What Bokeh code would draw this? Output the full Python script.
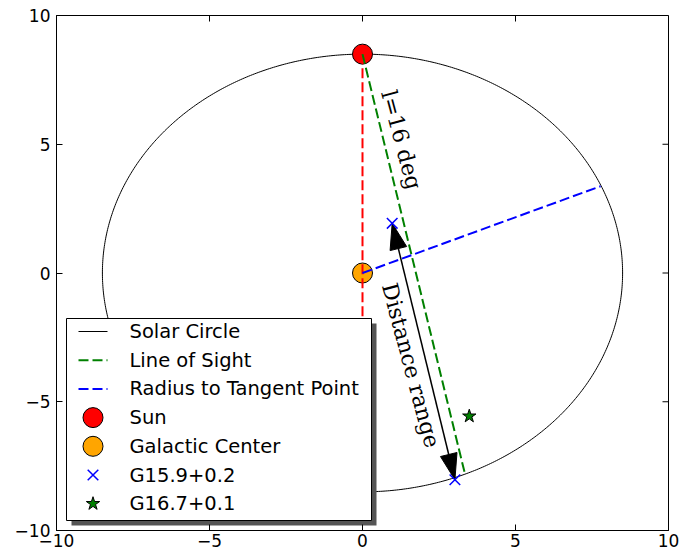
import numpy as np
from bokeh.plotting import figure
from bokeh.models import Range1d, FixedTicker
from bokeh.embed import file_html
from bokeh.resources import INLINE
from bokeh.core.properties import value

# Galactic geometry in kpc (Sun-centred view of the inner Galaxy)
R_SUN = 8.5
sun_x, sun_y = [0.0], [8.5]
gc_x, gc_y = [0.0], [0.0]
sun_gc_x, sun_gc_y = [0.0, 0.0], [8.5, -8.5]
los_x, los_y = [0.0, 3.35], [8.5, -7.81]
tangent_x, tangent_y = [0.0, 7.78], [0.0, 3.37]
g159_x, g159_y = [0.97, 3.02], [1.93, -8.03]
g167_x, g167_y = [3.49], [-5.56]

ticks = [-10, -5, 0, 5, 10]
tick_labels = {-10: "\u221210", -5: "\u22125", 0: "0", 5: "5", 10: "10"}

legend_labels = ["Solar Circle", "Line of Sight", "Radius to Tangent Point",
                 "Sun", "Galactic Center", "G15.9+0.2", "G16.7+0.1"]

FRAME_W, FRAME_H = 612, 515
X0, X1, Y0, Y1 = -10.0, 10.0, -10.0, 10.0
KX, KY = FRAME_W / (X1 - X0), FRAME_H / (Y1 - Y0)   # pixels per kpc


def fx(px):
    """frame pixel offset from the left edge -> data x"""
    return X0 + px / KX


def fy(py):
    """frame pixel offset from the top edge -> data y"""
    return Y1 - py / KY


p = figure(frame_width=FRAME_W, frame_height=FRAME_H,
           x_range=Range1d(X0, X1), y_range=Range1d(Y0, Y1),
           output_backend="svg", toolbar_location=None,
           min_border_left=56, min_border_right=13,
           min_border_top=15, min_border_bottom=26)
p.grid.visible = False
p.outline_line_color = "black"
p.background_fill_color = "white"
p.border_fill_color = "white"

for ax in p.axis:
    ax.ticker = FixedTicker(ticks=ticks)
    ax.major_tick_in = 6
    ax.major_tick_out = 0
    ax.minor_tick_line_color = None
    ax.axis_line_color = "black"
    ax.major_tick_line_color = "black"
    ax.major_label_overrides = tick_labels
    ax.major_label_text_font = "DejaVu Sans"
    ax.major_label_text_font_size = "17px"
    ax.major_label_text_color = "black"
p.below[0].major_label_standoff = 3
p.left[0].major_label_standoff = 6

# inward ticks along the top and right edges of the frame
TICK = 6
p.segment(x0=ticks, y0=[Y1] * len(ticks), x1=ticks, y1=[Y1 - TICK / KY] * len(ticks),
          line_color="black", line_width=1)
p.segment(x0=[X1] * len(ticks), y0=ticks, x1=[X1 - TICK / KX] * len(ticks), y1=ticks,
          line_color="black", line_width=1)

# solar circle
theta = np.linspace(0, 2 * np.pi, 721)
p.line(R_SUN * np.cos(theta), R_SUN * np.sin(theta), line_color="black", line_width=1)

# Sun and Galactic Centre
p.scatter(sun_x, sun_y, marker="circle", size=20, fill_color="red", line_color="black", line_width=1)
p.scatter(gc_x, gc_y, marker="circle", size=20, fill_color="orange", line_color="black", line_width=1)

# sight lines
DASH = "10 4"
p.line(sun_gc_x, sun_gc_y, line_color="red", line_width=2, line_dash=DASH)
p.line(los_x, los_y, line_color="green", line_width=2, line_dash=DASH)
p.line(tangent_x, tangent_y, line_color="blue", line_width=2, line_dash=DASH)


def arrow_head(tip_x, tip_y, from_x, from_y, length=26.0, half_w=8.5):
    dx, dy = (tip_x - from_x) * KX, (tip_y - from_y) * KY
    d = np.hypot(dx, dy)
    ux, uy = dx / d, dy / d
    bx, by = -ux * length, -uy * length
    nx, ny = -uy * half_w, ux * half_w
    xs = [tip_x, tip_x + (bx + nx) / KX, tip_x + (bx - nx) / KX]
    ys = [tip_y, tip_y + (by + ny) / KY, tip_y + (by - ny) / KY]
    return xs, ys


# double-headed distance arrow between the two distance solutions
p.line(g159_x, g159_y, line_color="black", line_width=1.5)
h1 = arrow_head(g159_x[0], g159_y[0], g159_x[1], g159_y[1])
h2 = arrow_head(g159_x[1], g159_y[1], g159_x[0], g159_y[0])
p.patches([h1[0], h2[0]], [h1[1], h2[1]], fill_color="black", line_color="black")

p.scatter(g159_x, g159_y, marker="x", size=15, line_color="blue", line_width=1.5)
p.scatter(g167_x, g167_y, marker="star", size=14, fill_color="green", line_color="black", line_width=1)

p.text(x=[1.27], y=[5.17], text=["l=16 deg"], angle=-75, angle_units="deg",
       text_font=value("DejaVu Serif"), text_font_size="22px",
       text_align="center", text_baseline="middle", text_color="black")
p.text(x=[1.58], y=[-3.59], text=["Distance range"], angle=-75, angle_units="deg",
       text_font=value("DejaVu Serif"), text_font_size="22px",
       text_align="center", text_baseline="middle", text_color="black")

# legend box with drop shadow
L, R, T, B = 10, 315, 303, 505
p.quad(left=[fx(L + 5)], right=[fx(R + 5)], top=[fy(T + 5)], bottom=[fy(B + 5)],
       fill_color="#555555", line_color=None)
p.quad(left=[fx(L)], right=[fx(R)], top=[fy(T)], bottom=[fy(B)],
       fill_color="white", line_color="black", line_width=1)

rows = [fy(316 + i * 28.7) for i in range(len(legend_labels))]
hx = [fx(22), fx(51)]
mx = fx(36.5)
p.line(hx, [rows[0]] * 2, line_color="black", line_width=1)
p.line(hx, [rows[1]] * 2, line_color="green", line_width=2, line_dash=DASH)
p.line(hx, [rows[2]] * 2, line_color="blue", line_width=2, line_dash=DASH)
p.scatter([mx], [rows[3]], marker="circle", size=20, fill_color="red", line_color="black")
p.scatter([mx], [rows[4]], marker="circle", size=20, fill_color="orange", line_color="black")
p.scatter([mx], [rows[5]], marker="x", size=15, line_color="blue", line_width=1.5)
p.scatter([mx], [rows[6]], marker="star", size=14, fill_color="green", line_color="black")
p.text(x=[fx(73)] * len(legend_labels), y=rows, text=legend_labels,
       text_font=value("DejaVu Sans"), text_font_size="19.5px",
       text_align="left", text_baseline="middle", text_color="black")

open("out.html", "w").write(file_html(p, INLINE))
